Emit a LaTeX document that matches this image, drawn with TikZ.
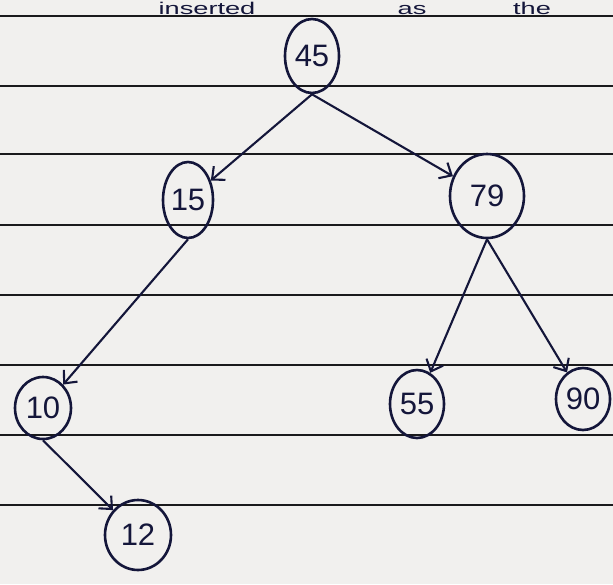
\documentclass[tikz,border=0pt]{standalone}
\usepackage{fontspec}
\setmainfont{Liberation Sans}
\usetikzlibrary{shapes.geometric,arrows.meta}
\definecolor{ink}{HTML}{14163A}
\definecolor{ruleink}{HTML}{1A1A1C}
\definecolor{paper}{HTML}{F1F0EE}
\begin{document}
\begin{tikzpicture}[x=1pt,y=-1pt,
  key/.style={ellipse,draw=ink,line width=2.6pt,inner sep=0pt,text=ink,font=\fontsize{31}{31}\selectfont},
  edge/.style={draw=ink,line width=2.1pt,-{Straight Barb[length=10pt,width=18pt,line width=2.1pt]}},
  rule/.style={draw=ruleink,line width=2pt},
  word/.style={anchor=base,text=ink,font=\fontsize{17}{17}\selectfont,inner sep=0pt,xscale=1.6}]
\useasboundingbox (0,0) rectangle (613,584);
\fill[paper] (0,0) rectangle (613,584);
\foreach \yy in {16,86,154,225,295,365,435,505}
  \draw[rule] (0,\yy) -- (613,\yy);
\node[word] (w1) at (207,14) {inserted};
\node[word] (w2) at (412,14) {as};
\node[word] (w3) at (532,14) {the};
\node[key,minimum width=54pt,minimum height=74pt] (n45) at (312,56) {45};
\node[key,minimum width=50pt,minimum height=76pt] (n15) at (188,200) {15};
\node[key,minimum width=74pt,minimum height=84pt] (n79) at (487,196) {79};
\node[key,minimum width=56pt,minimum height=62pt] (n10) at (43,408) {10};
\node[key,minimum width=54pt,minimum height=68pt] (n55) at (417,404) {55};
\node[key,minimum width=54pt,minimum height=62pt] (n90) at (583,399) {90};
\node[key,minimum width=66pt,minimum height=70pt] (n12) at (138,535) {12};
\draw[edge] (n45.south) -- (n15);
\draw[edge] (n45.south) -- (n79);
\draw[edge] (n15.south) -- (n10);
\draw[edge] (n79.south) -- (n55);
\draw[edge] (n79.south) -- (n90);
\draw[edge] (n10.south) -- (n12);
\end{tikzpicture}
\end{document}
